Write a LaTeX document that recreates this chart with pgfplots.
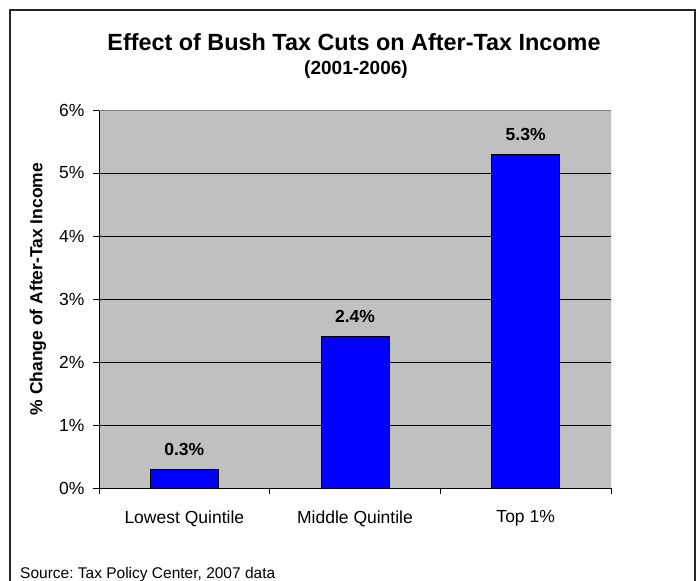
\documentclass[border=0pt]{standalone}
\usepackage{pgfplots}
\pgfplotsset{compat=1.18}
\usepackage{fontspec}
\setmainfont{Liberation Sans}
\definecolor{plotgray}{RGB}{192,192,192}
\definecolor{framegray}{RGB}{128,128,128}
\definecolor{barblue}{RGB}{0,0,255}
\frenchspacing
\begin{document}
\begin{tikzpicture}[x=1pt,y=1pt]
\useasboundingbox (0,0) rectangle (697,581);
\draw[line width=1.2pt, black!85] (10,-5) -- (10,571) -- (695,571) -- (695,-5);
\begin{axis}[
  at={(99pt,93pt)}, anchor=south west,
  scale only axis, width=512pt, height=378pt,
  ybar, bar width=68pt,
  xmin=-0.5, xmax=2.5, ymin=0, ymax=6,
  axis x line*=bottom, axis y line*=left,
  axis line style={black, line width=0.8pt},
  axis background/.style={fill=plotgray},
  xtick={-0.5,0.5,1.5,2.5},
  xticklabels={,,,},
  extra x ticks={0,1,2},
  extra x tick labels={Lowest Quintile, Middle Quintile, Top 1\%},
  extra x tick style={major tick length=0pt, xticklabel style={yshift=-19pt}},
  ytick={0,1,2,3,4,5,6},
  yticklabel={\pgfmathprintnumber{\tick}\%},
  yticklabel style={xshift=-5pt},
  /pgf/number format/assume math mode=true,
  tick align=outside,
  major tick length=6pt,
  tick style={black, line width=0.8pt},
  ymajorgrids,
  major grid style={black, line width=0.8pt},
  ticklabel style={font=\fontsize{17.5}{20}\selectfont},
]
\addplot[fill=barblue, draw=black, line width=0.8pt,
  nodes near coords={\pgfmathprintnumber[fixed,precision=1,fixed zerofill]{\pgfplotspointmeta}\%},
  every node near coord/.append style={font=\bfseries\fontsize{17.5}{20}\selectfont, inner sep=0pt, anchor=base, yshift=14pt}]
  coordinates {(0,0.3) (1,2.4) (2,5.3)};
\draw[framegray, line width=1pt] (rel axis cs:0,1) -- (rel axis cs:1,1) -- (rel axis cs:1,0);
\end{axis}
\node[font=\bfseries\fontsize{23.4}{27}\selectfont] at (354,539) {Effect of Bush Tax Cuts on After-Tax Income};
\node[font=\bfseries\fontsize{19}{22}\selectfont] at (356,511) {(2001-2006)};
\node[font=\bfseries\fontsize{17.5}{20}\selectfont, rotate=90] at (38,292) {\% Change of After-Tax Income};
\node[font=\fontsize{15.5}{18}\selectfont, anchor=base west, inner sep=0pt] at (20,2) {Source: Tax Policy Center, 2007 data};
\end{tikzpicture}
\end{document}
